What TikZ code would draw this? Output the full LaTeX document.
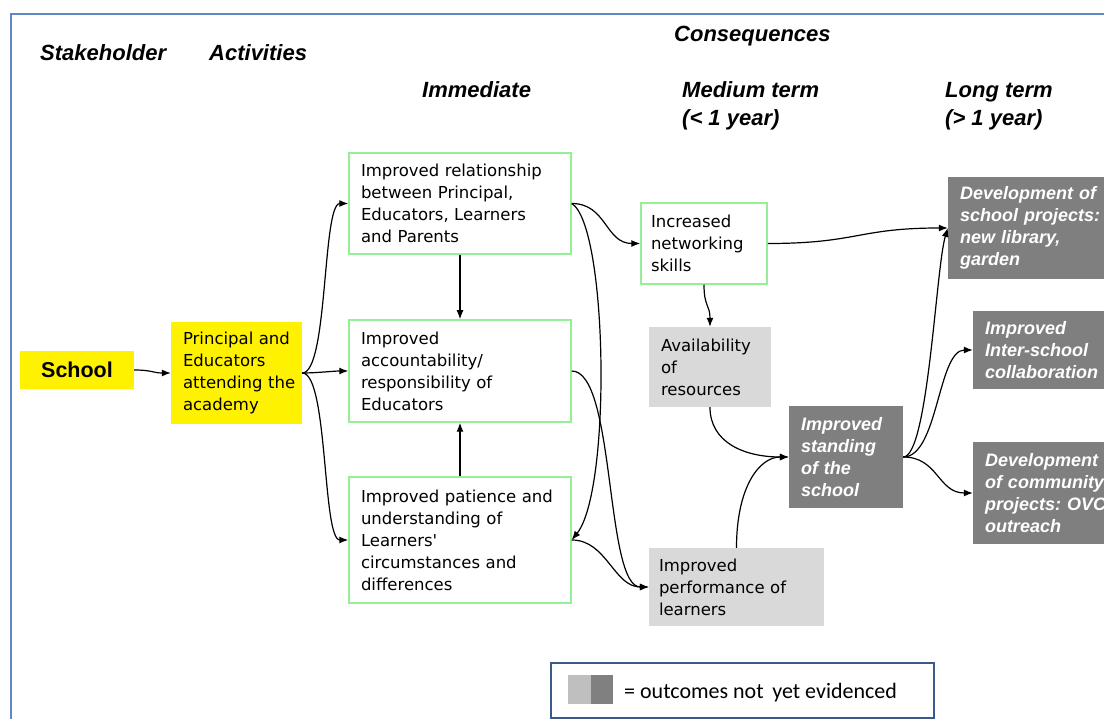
\documentclass[tikz,border=0pt]{standalone}
\usepackage{fontspec}
\setmainfont{Liberation Sans}
\newfontfamily\dvfamily{DejaVu Sans}
\newfontfamily\calfamily{Carlito}
\usetikzlibrary{arrows.meta}

\definecolor{frameblue}{RGB}{96,137,196}
\definecolor{legendblue}{RGB}{58,90,140}
\definecolor{boxgreen}{RGB}{150,238,150}
\definecolor{lightbox}{RGB}{217,217,217}
\definecolor{darkbox}{RGB}{127,127,127}
\definecolor{legendlight}{RGB}{191,191,191}
\definecolor{legenddark}{RGB}{128,128,128}

\tikzset{
  header/.style={inner sep=0pt, anchor=base west,
    font=\bfseries\itshape\fontsize{22}{26}\selectfont},
  yellowbox/.style={fill=yellow, inner ysep=0pt},
  textbox/.style={align=left, inner xsep=12pt, inner ysep=0pt,
    font=\dvfamily\fontsize{16.5}{22}\selectfont},
  greenbox/.style={textbox, draw=boxgreen, line width=1.5pt, fill=white},
  greybox/.style={textbox, fill=lightbox},
  darkgreybox/.style={align=left, inner xsep=12pt, inner ysep=0pt, fill=darkbox,
    text=white, font=\bfseries\itshape\fontsize{18}{22}\selectfont},
  arr/.style={draw=black, line width=1.2pt, -{Latex[length=9pt,width=7pt]}},
}

\begin{document}
\begin{tikzpicture}[x=1pt,y=-1pt]
\useasboundingbox (0,0) rectangle (1104,719);
\clip (0,0) rectangle (1104,719);
\fill[white] (0,0) rectangle (1104,719);

% outer frame
\draw[frameblue, line width=2pt] (11,725) -- (11,14) -- (1110,14);

% column headings
\node[header] (hstake) at (40,61) {Stakeholder};
\node[header] (hact) at (209,61) {Activities};
\node[header] (hcons) at (674,42) {Consequences};
\node[header] (himm) at (422,98) {Immediate};
\node[header] (hmed) at (682,98) {Medium term};
\node[header] (hmedsub) at (682,126) {(< 1 year)};
\node[header] (hlong) at (945,98) {Long term};
\node[header] (hlongsub) at (945,126) {(> 1 year)};

% stakeholder and activity
\node[yellowbox, minimum width=114pt, minimum height=38pt, inner xsep=0pt,
  font=\bfseries\fontsize{21.5}{24}\selectfont] (school) at (77,370) {School};
\node[yellowbox, textbox, text width=107pt, minimum height=102pt] (prin) at (236.5,373)
  {Principal~and\\Educators\\attending~the\\academy};

% immediate consequences
\node[greenbox, text width=198pt, minimum height=101pt] (rel) at (460,203.5)
  {Improved relationship\\between Principal,\\Educators, Learners\\and Parents};
\node[greenbox, text width=198pt, minimum height=102pt] (acc) at (460,371)
  {Improved\\accountability/\\responsibility of\\Educators};
\node[greenbox, text width=198pt, minimum height=126pt] (pat) at (460,540)
  {Improved~patience~and\\understanding of\\Learners'\\circumstances and\\differences};

% medium term consequences
\node[greenbox, inner xsep=10pt, text width=106pt, minimum height=81pt] (net) at (704,243.5)
  {Increased\\networking\\skills};
\node[greybox, text width=98pt, minimum height=80pt] (avail) at (710,367)
  {Availability\\of\\resources};
\node[greybox, inner xsep=10pt, text width=155pt, minimum height=78pt] (perf) at (736.5,587)
  {Improved\\performance of\\learners};
\node[darkgreybox, text width=90pt, minimum height=102pt] (stand) at (846,457)
  {Improved\\standing\\of the\\school};

% long term consequences
\node[darkgreybox, text width=146pt, minimum height=102pt] (devs) at (1033,228)
  {Development~of\\school~projects:\\new library,\\garden};
\node[darkgreybox, text width=136pt, minimum height=78pt] (inter) at (1053,350)
  {Improved\\Inter-school\\collaboration};
\node[darkgreybox, text width=136pt, minimum height=102pt] (devc) at (1053,493)
  {Development\\of~community\\projects:~OVC\\outreach};

% connectors
\draw[arr] (school.east) .. controls +(18,0) and +(-18,0) .. (prin.west);
\draw[arr] (prin.east) .. controls +(26,0) and +(-26,0) .. (rel.west);
\draw[arr] (prin.east) .. controls +(15,0) and +(-15,0) .. (acc.west);
\draw[arr] (prin.east) .. controls +(26,0) and +(-26,0) .. (pat.west);
\draw[arr] (rel.south) -- (acc.north);
\draw[arr] (pat.north) -- (acc.south);
\draw[arr] (rel.east) .. controls +(35,0) and +(-35,0) .. (net.west);
\draw[arr] (rel.east) .. controls +(36,22) and +(40,-50) .. (pat.east);
\draw[arr] (acc.east) .. controls +(44,0) and +(-44,0) .. (perf.west);
\draw[arr] (pat.east) .. controls +(35,0) and +(-35,0) .. (perf.west);
\draw[arr] (net.south) .. controls +(0,22) and +(0,-22) .. (avail.north);
\draw[arr] (net.east) .. controls +(90,0) and +(-90,0) .. (devs.west);
\draw[arr] (avail.south) .. controls +(0,35) and +(-45,0) .. (stand.west);
\draw[arr] (perf.north) .. controls +(0,-60) and +(-30,0) .. (stand.west);
\draw[arr] (stand.east) .. controls +(25,0) and +(-12,40) .. (devs.west);
\draw[arr] (stand.east) .. controls +(35,0) and +(-35,0) .. (inter.west);
\draw[arr] (stand.east) .. controls +(35,0) and +(-35,0) .. (devc.west);

% legend
\node[draw=legendblue, line width=2pt, minimum width=383pt, minimum height=55pt,
  inner sep=0pt] (legend) at (742.5,690.5) {};
\node[fill=legendlight, minimum width=22.5pt, minimum height=29pt, inner sep=0pt]
  (keylight) at (579.5,689) {};
\node[fill=legenddark, minimum width=22.5pt, minimum height=29pt, inner sep=0pt]
  (keydark) at (602,689) {};
\node[inner sep=0pt, anchor=base west, font=\calfamily\fontsize{22}{24}\selectfont]
  (keytext) at (624,698) {= outcomes not\, yet evidenced};
\end{tikzpicture}
\end{document}
